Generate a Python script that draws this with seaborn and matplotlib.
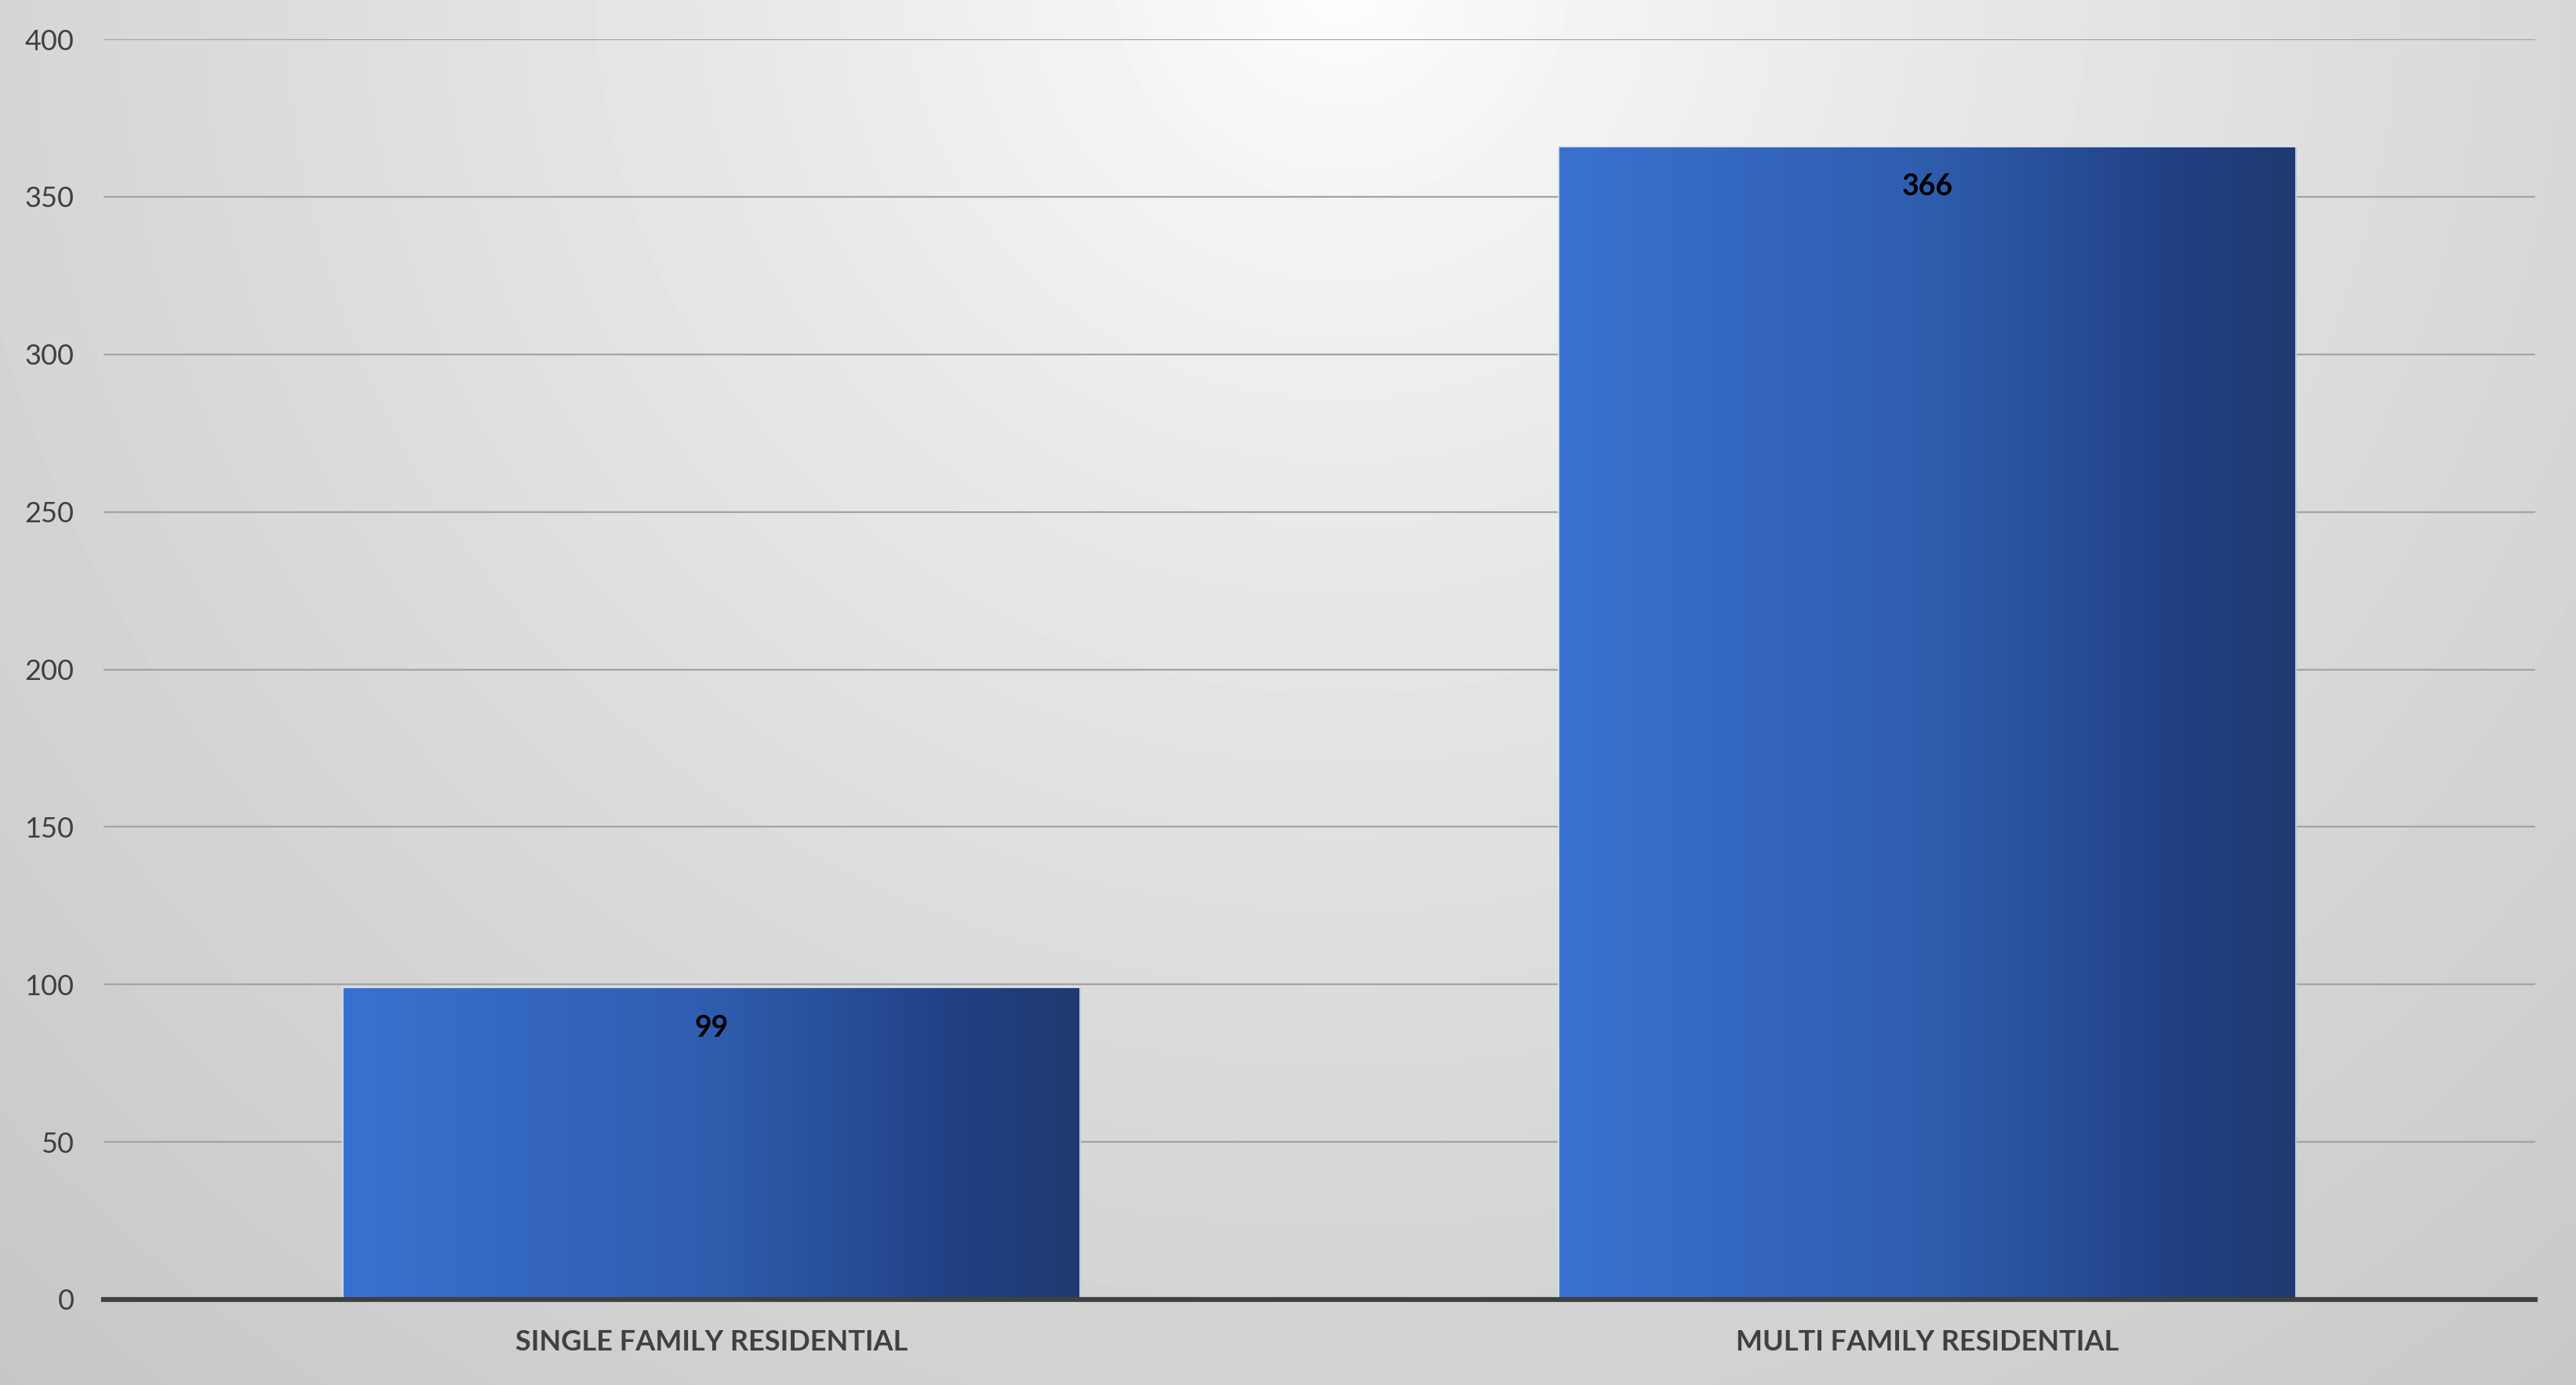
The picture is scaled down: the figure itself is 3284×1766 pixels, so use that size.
import numpy as np
import pandas as pd
import matplotlib
matplotlib.use("Agg")
import matplotlib.pyplot as plt
from matplotlib.colors import LinearSegmentedColormap
import seaborn as sns

# chart data
categories = ["SINGLE FAMILY RESIDENTIAL", "MULTI FAMILY RESIDENTIAL"]
counts = [99, 366]
y_ticks = [0, 50, 100, 150, 200, 250, 300, 350, 400]

sns.set_theme(style="white")
plt.rcParams["font.family"] = ["Lato", "DejaVu Sans"]

df = pd.DataFrame({"category": categories, "count": counts})

W, H, DPI = 3284, 1766, 100
fig = plt.figure(figsize=(W / DPI, H / DPI), dpi=DPI)

# radial grey background, brightest at top centre
bg = fig.add_axes([0, 0, 1, 1], zorder=-10)
yy, xx = np.mgrid[0:H:4, 0:W:4]
d = np.hypot((xx - W * 0.52) * 0.95, yy + 20)
shade = 1 - 0.22 * np.clip(d / 2411, 0, None) ** 0.75
bg.imshow(shade, cmap="gray", vmin=0, vmax=1, aspect="auto",
          extent=[0, 1, 0, 1], interpolation="bilinear")
bg.set_axis_off()
fig.patch.set_edgecolor("#b5b5b5")
fig.patch.set_linewidth(3)

ax = fig.add_axes([132 / W, 1 - 1657 / H, 3100 / W, 1607 / H])
ax.set_facecolor("none")

sns.barplot(data=df, x="category", y="count", width=0.607, ax=ax,
            color="#3060b0", zorder=3)

bar_cmap = LinearSegmentedColormap.from_list(
    "barfill", [(0, "#3a71d0"), (0.5, "#2f5dae"), (0.85, "#213f82"), (1, "#1f3a70")])
grad = np.linspace(0, 1, 256).reshape(1, -1)
for patch, val in zip(ax.patches, counts):
    x0, w, h = patch.get_x(), patch.get_width(), patch.get_height()
    im = ax.imshow(grad, cmap=bar_cmap, aspect="auto", extent=[x0, x0 + w, 0, h],
                   zorder=3, interpolation="bilinear")
    im.set_clip_path(patch)
    patch.set_facecolor("none")
    patch.set_edgecolor("#dfe6f3")
    patch.set_linewidth(1.2)
    patch.set_zorder(4)
    ax.annotate(str(val), (x0 + w / 2, h), xytext=(0, -37), textcoords="offset points",
                ha="center", va="center", fontsize=27, fontweight="bold",
                color="#000000", zorder=5)

ax.set_xlim(-0.5, 1.5)
ax.set_ylim(0, 400)
ax.set_yticks(y_ticks)
ax.yaxis.grid(True, color="#a3a3a3", linewidth=1.6)
ax.set_axisbelow(True)
for side in ["top", "right", "left"]:
    ax.spines[side].set_visible(False)
ax.spines["bottom"].set_color("#404040")
ax.spines["bottom"].set_linewidth(4.5)
ax.spines["bottom"].set_zorder(6)
ax.tick_params(axis="y", length=0, pad=27, labelsize=26, labelcolor="#404040")
ax.tick_params(axis="x", length=0, pad=27, labelsize=26, labelcolor="#404040")
for lbl in ax.get_xticklabels():
    lbl.set_fontweight("bold")
ax.set_xlabel("")
ax.set_ylabel("")

fig.savefig("out.png", dpi=DPI)
